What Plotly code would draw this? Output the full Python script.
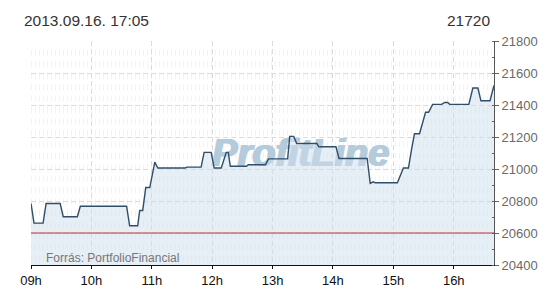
import plotly.graph_objects as go

# ---- data ----
DAY = "2013-09-16"
times = ["09:00", "09:03", "09:12", "09:15", "09:29", "09:32", "09:46", "09:49",
         "10:35", "10:38", "10:46", "10:48", "10:51", "10:54", "10:58", "11:03",
         "11:06", "11:33", "11:35", "11:49", "11:52", "11:59", "12:02", "12:09",
         "12:14", "12:16", "12:18", "12:34", "12:36", "12:53", "12:56", "13:15",
         "13:17", "13:21", "13:24", "13:44", "13:46", "14:03", "14:06", "14:34",
         "14:37", "14:40", "14:42", "15:04", "15:10", "15:15", "15:18", "15:21",
         "15:26", "15:30", "15:32", "15:35", "15:39", "15:48", "15:51", "15:54",
         "15:56", "16:15", "16:19", "16:24", "16:27", "16:36", "16:40"]
values = [20785, 20662, 20662, 20784, 20784, 20702, 20702, 20767,
          20767, 20645, 20645, 20741, 20741, 20884, 20884, 21043,
          21006, 21006, 21012, 21012, 21104, 21104, 21006, 21006,
          21104, 21104, 21017, 21017, 21027, 21027, 21063, 21063,
          21204, 21204, 21159, 21159, 21139, 21139, 21066, 21066,
          20910, 20920, 20914, 20914, 21006, 21006, 21120, 21220,
          21220, 21300, 21355, 21355, 21404, 21404, 21416, 21416,
          21404, 21404, 21506, 21506, 21427, 21427, 21522]
ref_level = 20600
y_range = [20400, 21800]
x_range = ["09:00", "16:40"]
hour_ticks = ["09:00", "10:00", "11:00", "12:00", "13:00", "14:00", "15:00", "16:00"]
hour_labels = ["09h", "10h", "11h", "12h", "13h", "14h", "15h", "16h"]
title_text = "2013.09.16. 17:05"
last_text = "21720"
source_text = "Forrás: PortfolioFinancial"
watermark_text = "ProfitLine"

xs = [f"{DAY} {t}" for t in times]
FONT = "Liberation Sans, Arial, sans-serif"
WM_COLOR = "#b4cbdc"

fig = go.Figure()

# watermark (drawn beneath the series)
fig.add_trace(go.Scatter(
    x=[f"{DAY} 13:27"], y=[21080], mode="text", text=[watermark_text],
    textposition="middle center", hoverinfo="skip", showlegend=False,
    textfont=dict(family=FONT, size=38, color=WM_COLOR, weight="bold", style="italic",
                  shadow=f"1px 0 0 {WM_COLOR}, 2px 0 0 {WM_COLOR}"),
))

fig.add_trace(go.Scatter(
    x=xs, y=values, mode="lines", fill="tozeroy",
    fillcolor="rgba(205,221,238,0.5)",
    line=dict(color="#314e68", width=1.4),
    hoverinfo="skip", showlegend=False,
))

shapes = []
# background hatch rows
plot_h = 229.0
ypx = 53.0
while ypx < 268:
    py = (270 - ypx) / plot_h
    shapes.append(dict(type="line", xref="paper", yref="paper", x0=0, x1=1, y0=py, y1=py,
                       line=dict(color="#f3f3f3", width=6, dash="1px,3px"), layer="below"))
    ypx += 11.7
# reference level
shapes.append(dict(type="line", xref="paper", yref="y", x0=0, x1=1, y0=ref_level, y1=ref_level,
                   line=dict(color="#c03030", width=1.2), layer="above"))

fig.update_layout(
    width=550, height=300,
    margin=dict(l=31, r=49, t=41, b=30),
    paper_bgcolor="white", plot_bgcolor="white",
    showlegend=False,
    shapes=shapes,
    font=dict(family=FONT),
    xaxis=dict(
        type="date", range=[f"{DAY} {x_range[0]}", f"{DAY} {x_range[1]}"],
        tickvals=[f"{DAY} {t}" for t in hour_ticks], ticktext=hour_labels,
        showgrid=True, gridcolor="#dadada", griddash="5px,3px", gridwidth=1,
        showline=True, linecolor="#111", linewidth=1,
        ticks="outside", ticklen=3, tickcolor="#111",
        tickfont=dict(family=FONT, size=13, color="#111"),
        zeroline=False, fixedrange=True,
    ),
    yaxis=dict(
        side="right", range=y_range, dtick=200, tick0=20400, tickformat="d",
        showgrid=True, gridcolor="#dadada", griddash="5px,3px", gridwidth=1,
        showline=True, linecolor="#555", linewidth=1,
        ticks="outside", ticklen=4, tickcolor="#666",
        tickfont=dict(family=FONT, size=13, color="#6a6a6a"),
        minor=dict(dtick=100, tick0=20400, ticks="inside", ticklen=2, tickcolor="#e03030", showgrid=False),
        zeroline=False, fixedrange=True,
    ),
    annotations=[
        dict(text=title_text, xref="paper", yref="paper", x=0, y=1, xanchor="left", yanchor="middle",
             xshift=-9, yshift=21, showarrow=False, font=dict(family=FONT, size=15.5, color="#333")),
        dict(text=last_text, xref="paper", yref="paper", x=1, y=1, xanchor="right", yanchor="middle",
             xshift=-2, yshift=21, showarrow=False, font=dict(family=FONT, size=15.5, color="#333")),
        dict(text=source_text, xref="paper", yref="paper", x=0, y=0, xanchor="left", yanchor="middle",
             xshift=13, yshift=7, showarrow=False, font=dict(family=FONT, size=12, color="#777")),
    ],
)

fig.write_html("out.html")
